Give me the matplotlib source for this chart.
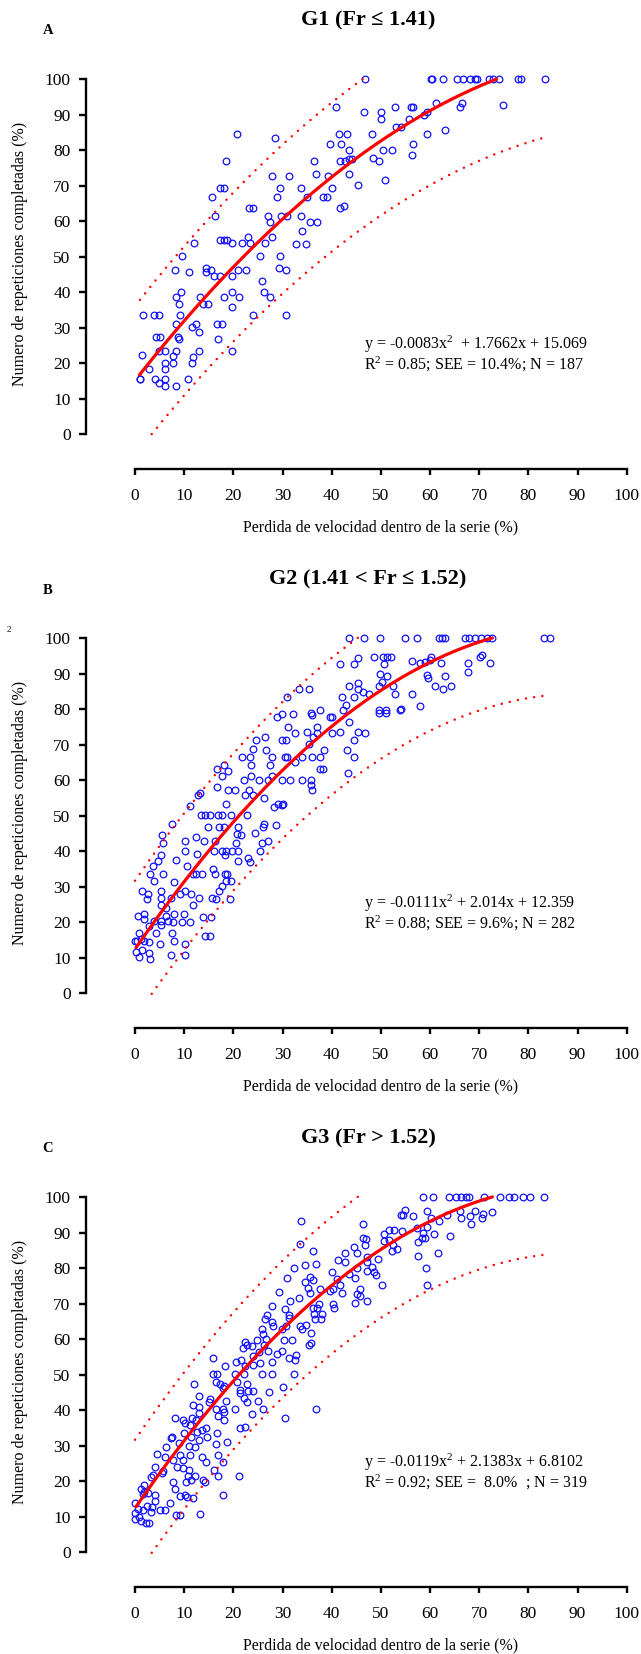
import numpy as np
import matplotlib
matplotlib.use("Agg")
import matplotlib.pyplot as plt

plt.rcParams['font.family'] = ['Liberation Serif', 'DejaVu Serif']
plt.rcParams['mathtext.fontset'] = 'custom'
plt.rcParams['mathtext.rm'] = 'Liberation Serif'
plt.rcParams['mathtext.it'] = 'Liberation Serif'
plt.rcParams['mathtext.default'] = 'regular'

# ---------------- data ----------------
titles = ["G1 (Fr \u2264 1.41)", "G2 (1.41 < Fr \u2264 1.52)", "G3 (Fr > 1.52)"]
letters = ["A", "B", "C"]
eq_text = ["y = -0.0083x$^{2}$  + 1.7662x + 15.069",
           "y = -0.0111x$^{2}$ + 2.014x + 12.359",
           "y = -0.0119x$^{2}$ + 2.1383x + 6.8102"]
stat_text = ["R$^{2}$ = 0.85; SEE = 10.4%; N = 187",
             "R$^{2}$ = 0.88; SEE = 9.6%; N = 282",
             "R$^{2}$ = 0.92; SEE =  8.0%  ; N = 319"]
# coefficients of the drawn trend curves (a, b, c) and their x-ranges
curve_coef = [(-0.0083, 1.7662, 15.069), (-0.0111, 2.014, 12.359), (-0.0111, 2.014, 12.359)]
curve_range = [(0.9, 73.5), (0.2, 72.7), (0.2, 72.7)]
band_half = [21.0, 19.3, 19.3]
upper_range = [(1.0, 46.8), (0.0, 45.8), (0.0, 45.8)]
lower_range = [(3.4, 82.9), (3.4, 83.7), (3.4, 83.7)]

x_ticks = list(range(0, 101, 10))
y_ticks = list(range(0, 101, 10))
xlabel = "Perdida de velocidad dentro de la serie (%)"
ylabel = "Numero de repeticiones completadas (%)"

ptsA = [(40.8,92.3),(20.8,84.6),(28.5,83.4),(41.4,84.6),(43.2,84.6),(39.7,81.8),(41.8,81.8),(43.6,80.1),(18.6,77.0),(36.5,77.0),(41.7,77.0),(42.7,77.0),(43.6,77.5),(44.1,77.5),(27.8,72.7),(31.3,72.7),(36.9,73.4),(39.3,72.7),(43.6,73.4),(45.4,70.1),(17.2,69.4),(18.2,69.4),(29.4,69.4),(33.8,69.4),(40.0,69.4),(15.7,66.7),(28.8,66.7),(34.9,66.7),(38.3,66.7),(39.0,66.7),(23.1,63.6),(24.0,63.6),(41.7,63.6),(42.5,64.4),(16.3,61.5),(27.0,61.5),(27.5,59.9),(29.6,61.5),(30.9,61.5),(33.8,61.5),(35.5,59.9),(37.0,59.9),(34.0,57.1),(27.9,55.6),(23.0,55.6),(12.0,53.8),(17.3,54.6),(18.0,54.6),(18.8,54.6),(19.7,53.8),(21.8,53.8),(23.3,53.8),(26.5,53.8),(32.8,53.5),(34.7,53.5),
(9.6,50.1),(25.4,50.1),(29.4,50.1),(8.2,46.2),(11.0,45.6),(14.4,46.9),(15.5,46.2),(14.4,45.6),(16.1,44.6),(17.3,44.6),(19.8,44.6),(20.9,46.2),(22.6,46.2),(29.3,46.9),(30.8,46.2),(25.8,43.0),(9.3,40.1),(8.3,38.5),(9.0,36.6),(13.3,38.5),(13.8,36.6),(14.9,36.6),(18.0,38.5),(19.7,40.1),(21.2,38.5),(19.7,35.8),(26.3,40.1),(27.5,38.5),(1.6,33.5),(3.8,33.5),(4.8,33.5),(9.2,33.5),(24.0,33.5),(30.8,33.5),(8.4,30.9),(11.6,30.3),(12.4,30.9),(13.0,28.8),(16.7,30.9),(17.6,30.9),(4.3,27.4),(5.1,27.4),(8.8,27.4),(9.0,26.7),(16.8,26.8),(1.4,22.4),(4.8,23.4),(6.0,23.4),(8.3,23.4),(7.7,22.0),(13.0,23.4),(11.7,21.6),(11.6,20.1),(6.2,20.1),(7.7,20.1),(6.2,18.3),(19.8,23.4),(2.8,18.3),(1.0,15.6),(1.1,15.6),(4.1,15.6),(4.9,14.5),(6.0,15.6),(6.0,13.5),(8.4,13.5),(10.7,15.6),
(46.8,100),(60.2,100),(60.5,100),(62.7,100),(65.5,100),(66.8,100),(68.2,100),(69.2,100),(69.6,100),(71.9,100),(72.9,100),(74.0,100),(77.8,100),(78.6,100),(83.4,100),(46.6,90.9),(50.0,90.9),(50.1,88.8),(52.9,92.3),(56.1,92.3),(56.6,92.3),(61.2,93.2),(59.3,90.9),(58.8,89.9),(66.6,93.2),(66.1,92.3),(74.9,92.8),(55.8,88.8),(53.0,86.6),(54.1,86.6),(48.3,84.6),(59.4,84.6),(63.0,85.7),(56.5,81.8),(50.4,80.1),(52.3,80.1),(56.3,78.6),(48.4,77.8),(49.6,77.0),(50.8,71.5)]

ptsB = [(43.6,100),(46.5,100),(49.8,100),(45.4,94.5),(41.6,92.8),(44.5,92.8),(48.6,94.6),(50.4,94.6),(51.2,94.6),(52.1,94.6),(50.6,92.8),(49.8,90.0),(51.2,89.4),(49.6,86.6),(50.2,87.7),(52.9,84.2),(43.5,86.6),(45.4,87.5),(45.3,85.6),(46.3,84.8),(47.5,84.3),(44.5,83.4),(42.0,83.4),(42.9,81.2),(42.4,79.9),(33.4,85.6),(35.4,85.6),(30.9,83.4),(49.6,79.9),(51.0,79.9),(49.6,78.9),(51.0,78.9),(53.9,79.9),(29.8,78.6),(28.9,77.8),(32.1,78.6),(35.7,78.9),(36.0,78.4),(37.6,79.9),(39.6,77.8),(40.1,77.8),(43.6,76.3),(31.2,75.0),(32.6,73.4),(35.0,73.7),(37.1,75.1),(37.1,73.4),(36.3,72.3),(40.1,73.4),(41.6,73.7),(45.4,73.7),(46.8,73.4),(44.5,71.4),(24.7,71.4),(26.4,72.3),(29.9,71.4),(30.7,71.4),(35.3,70.2),(38.4,68.4),(43.2,68.4),(44.5,66.6),(24.0,68.8),(23.4,66.6),(21.8,66.6),(26.6,68.4),(27.9,66.6),(30.5,66.6),(30.9,66.6),(33.9,66.6),(35.9,66.6),(37.6,66.6),(23.5,64.3),(27.5,64.3),(32.5,65.1),(37.6,63.2),(38.3,63.2),(43.4,61.9),(18.2,64.4),(16.7,63.2),(19.0,62.6),(17.7,61.1),(22.2,60.0),(23.5,61.1),(25.2,60.0),(27.1,60.0),(27.9,61.1),(29.8,60.0),(31.6,60.0),(33.9,60.0),(35.7,60.0),(35.7,58.7),
(54.9,100),(57.4,100),(61.8,100),(62.4,100),(63.1,100),(67.1,100),(67.9,100),(69.1,100),(70.4,100),(71.5,100),(72.7,100),(83.2,100),(84.4,100),(56.3,93.7),(58.0,93.1),(58.9,93.4),(60.1,94.6),(59.9,94.0),(62.3,93.1),(70.2,94.6),(70.5,95.2),(72.1,93.1),(67.8,93.1),(67.7,90.4),(59.3,89.6),(59.5,88.7),(63.1,89.4),(52.4,86.6),(61.0,86.6),(62.6,85.6),(64.3,86.6),(56.4,84.2),(54.0,80.0),(57.9,80.9),
(16.7,58.0),(13.2,56.3),(12.9,55.7),(18.9,57.1),(20.3,57.1),(23.2,57.2),(22.3,55.7),(24.0,55.7),(26.3,55.0),(36.0,57.1),(18.5,53.4),(11.2,52.7),(28.3,52.5),(29.0,53.4),(29.8,53.0),(30.2,53.4),(13.4,50.1),(14.2,50.1),(15.3,50.1),(16.8,50.1),(17.7,50.1),(19.5,50.1),(22.7,50.1),(7.5,47.6),(14.8,46.8),(17.0,46.8),(18.1,46.8),(20.9,46.8),(20.8,44.7),(21.5,44.5),(24.5,45.1),(26.1,46.8),(26.3,47.6),(28.6,47.5),(5.4,44.5),(5.6,42.2),(12.4,43.9),(10.1,42.9),(14.1,42.9),(16.3,42.9),(20.5,42.2),(25.9,42.2),(27.1,42.9),(5.3,39.0),(10.2,40.1),(12.6,39.1),(16.1,40.1),(17.7,40.1),(18.5,40.1),(19.7,40.1),(21.0,40.1),(18.4,39.0),(25.4,40.1),(4.7,37.1),(3.7,35.8),(8.3,37.5),(10.6,35.8),(20.9,37.1),(23.0,38.2),(23.4,36.9),(3.0,33.5),(3.9,31.7),(5.6,33.5),(11.7,33.5),(12.5,33.5),(13.6,33.5),(15.8,35.1),(16.3,33.5),(18.4,33.5),(18.8,33.5),(18.6,31.7),(19.5,31.7),(7.9,31.4),(1.4,28.8),(2.6,27.9),(2.4,26.5),(5.2,28.8),(5.2,26.9),(5.2,24.9),(7.3,26.9),(9.1,28.0),(10.2,28.7),(11.3,27.9),(13.0,26.8),(11.7,24.9),(15.7,26.9),(16.5,26.5),(17.0,28.7),(17.7,30.1),(19.3,26.5),(6.4,24.0),(0.6,21.7),(1.9,22.4),(1.8,20.9),(3.9,20.3),(5.3,20.3),(6.8,20.3),(7.9,22.3),(5.3,19.2),(6.4,21.7),(7.7,20.0),(9.9,22.3),(9.6,20.0),(11.1,20.0),(13.9,21.3),(15.4,21.3),(2.9,18.9),(4.3,16.8),(7.6,16.8),(7.9,14.6),(14.3,16.0),(15.3,16.0),(0.8,16.8),(0.0,14.6),(0.5,14.6),(1.3,15.2),(1.9,14.6),(2.8,14.5),(5.0,13.8),(10.2,13.8),(0.2,11.6),(0.9,10.1),(2.8,11.3),(3.1,9.6),(7.3,10.7),(10.1,10.7),(1.4,12.1)]

ptsC = [(33.8,93.4),(33.6,86.8),(36.1,84.9),(32.3,80.2),(34.5,80.8),(36.9,81.1),(31.0,77.2),(35.5,77.4),(34.6,76.2),(36.3,76.8),(29.3,73.4),(35.1,74.4),(35.6,73.0),(37.6,74.1),(46.4,92.5),(46.4,88.6),(46.9,88.2),(46.8,86.6),(44.5,85.9),(45.1,84.4),(42.8,84.4),(41.2,82.4),(42.8,81.7),(47.1,83.3),(40.1,79.0),(45.1,80.0),(47.1,81.7),(48.2,80.3),(48.7,79.0),(49.1,78.1),(47.1,79.3),(43.5,78.4),(44.7,77.2),(41.1,77.0),(41.7,75.3),(40.3,74.1),(39.7,73.7),(45.8,74.1),(45.1,72.6),(49.5,82.6),(50.2,75.3),(50.6,89.7),(51.7,90.9),(52.7,90.7),(50.7,87.8),(51.7,88.0),(52.5,86.6),(52.3,85.0),(53.3,85.4),(54.1,95.0),(42.0,73.0),
(58.6,100),(60.6,100),(63.9,100),(65.3,100),(66.2,100),(67.3,100),(67.9,100),(70.9,100),(74.2,100),(76.1,100),(77.1,100),(79.0,100),(80.3,100),(83.2,100),(54.9,96.5),(54.6,95.0),(56.6,94.8),(59.3,96.0),(60.1,94.1),(61.8,93.4),(63.5,95.0),(66.1,96.0),(66.2,94.3),(68.1,94.8),(69.1,96.0),(70.7,95.2),(70.6,94.3),(68.3,92.5),(72.7,95.9),(54.3,90.4),(57.3,91.3),(59.3,91.7),(58.6,90.0),(58.9,88.4),(58.3,88.4),(57.5,87.5),(60.9,89.6),(64.1,89.0),(57.6,83.5),(61.6,84.3),(59.2,80.2),(59.3,75.3),
(31.6,70.8),(30.6,68.5),(31.3,66.8),(33.3,71.5),(37.4,69.9),(36.1,68.9),(40.3,69.9),(40.5,68.9),(45.8,72.3),(47.2,70.8),(44.7,70.1),(27.9,69.3),(26.8,66.7),(26.4,65.6),(27.9,64.9),(28.0,63.7),(25.8,62.8),(26.0,61.6),(24.9,59.8),(29.8,62.8),(30.8,63.8),(31.3,65.9),(32.0,59.9),(30.4,59.9),(33.5,63.7),(33.9,62.8),(34.7,64.0),(35.7,61.7),(36.6,65.6),(37.8,65.6),(38.0,67.0),(36.5,67.0),(37.0,68.8),(35.3,58.4),(35.7,58.8),(22.4,59.3),(22.8,58.5),(21.9,57.6),(23.7,58.1),(26.6,60.0),(26.2,58.4),(27.0,56.7),(28.9,55.8),(29.9,56.6),(24.1,55.3),(25.3,56.3),(31.4,54.6),(32.5,54.1),(32.8,55.4),(15.9,54.7),(20.5,53.6),(21.6,54.1),(22.4,52.4),(24.1,52.8),(25.4,53.3),(27.9,53.6),(18.4,52.5),(15.9,50.3),(16.7,50.3),(20.4,50.3),(22.2,50.3),(25.8,50.3),(27.9,50.3),(32.4,50.3),(16.4,48.0),(17.2,47.3),(18.2,46.7),(17.8,46.2),(11.9,47.3),(20.7,48.0),(22.7,47.4),(21.3,45.7),(22.9,45.3),(24.0,45.3),(27.2,45.2),(30.2,46.4),(13.1,44.0),(15.3,43.0),(15.0,42.2),(11.7,41.5),(13.0,41.0),(18.6,42.6),(17.8,40.4),(18.2,39.4),(16.5,40.4),(16.8,38.4),(18.0,37.3),(21.3,44.7),(22.2,43.5),(22.8,42.2),(25.0,42.5),(26.1,40.4),(20.3,40.4),(23.8,38.8),(30.6,37.8),(36.8,40.4),(8.2,37.8),(9.7,37.3),(10.1,36.5),(11.2,35.9),(11.6,37.7),(12.4,37.3),(13.0,39.1),(9.9,33.6),(11.4,32.5),(12.7,33.7),(13.6,34.5),(14.4,35.0),(14.7,32.5),(16.6,33.6),(7.3,32.0),(7.5,32.4),(9.0,30.7),(10.9,30.0),(12.3,29.5),(13.1,31.5),(16.5,30.4),(18.8,31.1),(21.4,35.0),(22.3,35.3),(6.4,29.7),(4.4,27.6),(6.1,26.7),(7.7,26.0),(9.1,27.3),(9.7,25.8),(11.2,27.4),(13.6,26.9),(14.5,25.4),(16.9,27.3),(17.9,25.3),(8.5,24.0),(9.8,23.6),(11.0,23.1),(4.1,24.0),(5.4,22.4),(5.7,22.9),(3.7,21.7),(10.7,21.5),(12.3,21.5),(16.8,21.5),(16.0,23.2),(13.8,20.3),(14.3,19.6),(3.2,21.2),(1.9,19.0),(7.7,19.6),(8.1,17.9),(10.3,19.6),(11.4,20.3),(21.1,21.3),(1.3,17.7),(1.9,17.0),(2.6,16.5),(1.7,16.3),(4.0,16.1),(4.1,14.4),(3.4,12.8),(2.4,12.9),(9.1,15.7),(10.2,16.1),(10.6,15.4),(11.7,15.1),(17.9,16.1),(7.2,13.7),(5.0,11.8),(6.2,11.8),(0.0,13.7),(0.7,12.1),(0.0,11.1),(1.6,11.8),(0.0,9.2),(1.2,8.6),(2.2,8.1),(2.8,8.1),(0.9,9.9),(8.3,10.3),(9.2,10.3),(13.2,10.8),(3.3,11.2)]

points = [ptsA, ptsB, ptsC]

# ---------------- layout (pixels) ----------------
W_PX, H_PX = 641, 1654
fig = plt.figure(figsize=(W_PX / 100, H_PX / 100), dpi=100)

X0_PX, XSC = 135.0, 4.917      # pixel of x=0, pixels per unit
Y0_PX, YSC = 434.0, 3.547      # pixel of y=0 (panel A), pixels per unit
PANEL_STEP = 559.0
XL, XR = -12, 102
YB, YT = -12, 102

BLUE = '#1010ff'
RED = '#ff0000'

for k in range(3):
    off = PANEL_STEP * k
    left = (X0_PX + XSC * XL) / W_PX
    width = XSC * (XR - XL) / W_PX
    top_px = Y0_PX + off - YSC * YT
    bot_px = Y0_PX + off - YSC * YB
    ax = fig.add_axes([left, 1 - bot_px / H_PX, width, (bot_px - top_px) / H_PX])
    ax.set_xlim(XL, XR)
    ax.set_ylim(YB, YT)
    ax.patch.set_alpha(0)

    for s in ['top', 'right']:
        ax.spines[s].set_visible(False)
    ax.spines['left'].set_position(('data', -10))
    ax.spines['bottom'].set_position(('data', -10))
    ax.spines['left'].set_bounds(0, 100)
    ax.spines['bottom'].set_bounds(0, 100)
    for s in ['left', 'bottom']:
        ax.spines[s].set_linewidth(1.7)
    ax.set_xticks(x_ticks)
    ax.set_yticks(y_ticks)
    ax.tick_params(axis='y', direction='out', length=5, width=1.7, pad=6, labelsize=12.5)
    ax.tick_params(axis='x', direction='out', length=4, width=1.7, pad=9.5, labelsize=12.5)

    pts = points[k]
    px = [p[0] for p in pts]
    py = [p[1] for p in pts]
    ax.plot(px, py, linestyle='none', marker='o', ms=4.8, mfc='none',
            mec=BLUE, mew=0.9, zorder=2)

    a, b, c = curve_coef[k]
    xs = np.linspace(curve_range[k][0], curve_range[k][1], 200)
    ax.plot(xs, a * xs**2 + b * xs + c, color=RED, lw=2.3, zorder=3,
            solid_capstyle='round')
    hw = band_half[k]
    xu = np.linspace(upper_range[k][0], upper_range[k][1], 200)
    ax.plot(xu, a * xu**2 + b * xu + c + hw, color=RED, lw=1.8,
            linestyle=(0, (0.01, 3.3)), dash_capstyle='round', zorder=3)
    xl = np.linspace(lower_range[k][0], lower_range[k][1], 300)
    ax.plot(xl, a * xl**2 + b * xl + c - hw, color=RED, lw=1.8,
            linestyle=(0, (0.01, 3.3)), dash_capstyle='round', zorder=3)

    # equation text
    ax.text(46.6, 25.4, eq_text[k], fontsize=11.5, ha='left', va='center')
    ax.text(46.6, 19.5, stat_text[k], fontsize=11.5, ha='left', va='center')

    # titles, letters, axis labels (figure pixel coordinates)
    fig.text(368 / W_PX, 1 - (20 + off) / H_PX, titles[k], fontsize=16,
             fontweight='bold', ha='center', va='center')
    fig.text(48 / W_PX, 1 - (31 + off) / H_PX, letters[k], fontsize=10.5,
             fontweight='bold', ha='center', va='center')
    fig.text(381 / W_PX, 1 - (527 + off) / H_PX, xlabel, fontsize=11.5,
             ha='center', va='center')
    fig.text(20 / W_PX, 1 - (254 + off) / H_PX, ylabel, fontsize=11.5,
             ha='center', va='center', rotation=90)

# stray superscript mark next to panel B's axis label
fig.text(8.4 / W_PX, 1 - 630.5 / H_PX, "2", fontsize=6.5, ha='center', va='center')

fig.savefig("out.png", dpi=100)
